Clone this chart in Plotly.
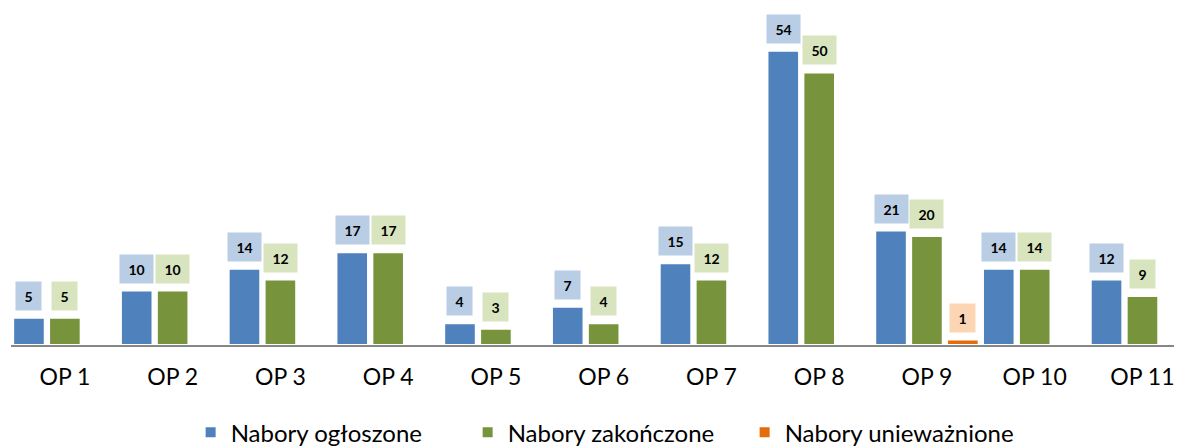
import plotly.graph_objects as go

categories = ["OP 1", "OP 2", "OP 3", "OP 4", "OP 5", "OP 6", "OP 7", "OP 8", "OP 9", "OP 10", "OP 11"]
ogloszone = [5, 10, 14, 17, 4, 7, 15, 54, 21, 14, 12]
zakonczone = [5, 10, 12, 17, 3, 4, 12, 50, 20, 14, 9]
uniewaznione = [None, None, None, None, None, None, None, None, 1, None, None]

series = [
    ("Nabory ogłoszone", ogloszone, "#4f81bd", "#b9cde5", -1),
    ("Nabory zakończone", zakonczone, "#77933c", "#d7e4bd", 0),
    ("Nabory unieważnione", uniewaznione, "#e46c0a", "#fcd5b5", 1),
]

FONT = "Lato, Carlito, 'Open Sans', sans-serif"

fig = go.Figure()
annotations = []
slot = 1.0 / 3.0
for name, vals, color, light, k in series:
    fig.add_trace(go.Bar(
        name=name, x=categories, y=vals,
        marker=dict(color=color, line=dict(color="white", width=2)),
        hoverinfo="skip",
    ))
    for i, v in enumerate(vals):
        if v is None:
            continue
        txt = str(v)
        annotations.append(dict(
            x=i + k * slot, y=v, xref="x", yref="y",
            text="<b>%s</b>" % txt, showarrow=False,
            xanchor="center", yanchor="bottom", yshift=7,
            bgcolor=light, borderpad=0,
            width=17 + 8 * len(txt), height=28,
            font=dict(family=FONT, size=14, color="#000000"),
        ))

# page body has an 8px margin, so the figure is sized 8px smaller
fig.update_layout(
    width=1174, height=438,
    margin=dict(l=3, r=0, t=0, b=101, autoexpand=False),
    paper_bgcolor="white", plot_bgcolor="white",
    barmode="group", bargap=0.0, bargroupgap=0.12,
    font=dict(family=FONT, color="#000000"),
    annotations=annotations,
    showlegend=True,
    legend=dict(
        orientation="h", x=0.1534, xanchor="left", y=-0.193, yanchor="top",
        font=dict(family=FONT, size=24, color="#000000"),
        entrywidth=232, entrywidthmode="pixels",
    ),
)
fig.update_xaxes(
    range=[-0.5, 10.367], automargin=False,
    showline=True, linecolor="#868686", linewidth=2,
    ticks="outside", ticklen=10, tickcolor="rgba(0,0,0,0)",
    tickfont=dict(family=FONT, size=23, color="#000000"),
    showgrid=False, zeroline=False,
)
fig.update_yaxes(
    range=[0, 61.83], visible=False, showgrid=False, zeroline=False,
    automargin=False,
)

fig.write_html("out.html")
